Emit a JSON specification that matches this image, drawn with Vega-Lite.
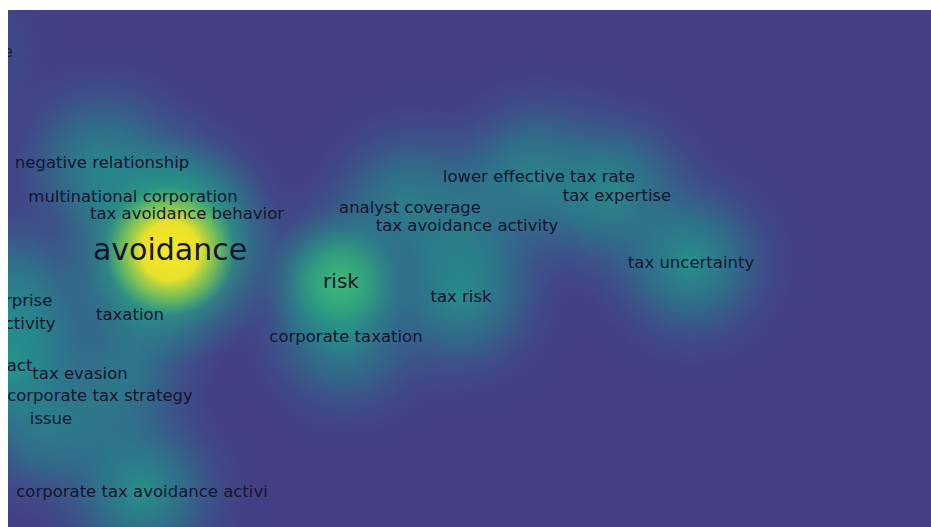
{
  "$schema": "https://vega.github.io/schema/vega-lite/v6.json",
  "width": 923,
  "height": 517,
  "autosize": "none",
  "padding": {"left": 8, "top": 10, "right": 0, "bottom": 0},
  "background": "white",
  "config": {"view": {"stroke": null, "fill": "#443e85"}},
  "data": {
    "values": [
      {"label": "avoidance", "x": 162, "y": 241, "w": 60},
      {"label": "risk", "x": 333, "y": 272, "w": 30},
      {"label": "negative relationship", "x": 94, "y": 153, "w": 16},
      {"label": "multinational corporation", "x": 125, "y": 187, "w": 9},
      {"label": "tax avoidance behavior", "x": 179, "y": 204, "w": 9},
      {"label": "taxation", "x": 122, "y": 305, "w": 10},
      {"label": "tax evasion", "x": 72, "y": 364, "w": 12},
      {"label": "corporate tax strategy", "x": 92, "y": 386, "w": 10},
      {"label": "issue", "x": 43, "y": 409, "w": 10},
      {"label": "corporate tax avoidance activi", "x": 134, "y": 482, "w": 12},
      {"label": "corporate taxation", "x": 338, "y": 327, "w": 8},
      {"label": "analyst coverage", "x": 402, "y": 198, "w": 10},
      {"label": "tax avoidance activity", "x": 459, "y": 216, "w": 13},
      {"label": "lower effective tax rate", "x": 531, "y": 167, "w": 10},
      {"label": "tax expertise", "x": 609, "y": 186, "w": 10},
      {"label": "tax risk", "x": 453, "y": 287, "w": 9},
      {"label": "tax uncertainty", "x": 683, "y": 253, "w": 13},
      {"label": "enterprise", "x": 2, "y": 291, "w": 10},
      {"label": "firm activity", "x": -2, "y": 314, "w": 10},
      {"label": "impact", "x": -4, "y": 356, "w": 10},
      {"label": "performance", "x": -48, "y": 42, "w": 3}
    ]
  },
  "encoding": {
    "x": {"field": "x", "type": "quantitative", "scale": {"domain": [0, 923], "nice": false, "zero": false}, "axis": null},
    "y": {"field": "y", "type": "quantitative", "scale": {"domain": [0, 517], "nice": false, "zero": false, "reverse": true}, "axis": null}
  },
  "layer": [
    {
      "mark": {
        "type": "point",
        "shape": "circle",
        "filled": true,
        "clip": true,
        "size": 72900,
        "strokeWidth": 0,
        "fill": {
          "gradient": "radial",
          "stops": [
            {"offset": 0, "color": "rgba(36,152,138,0.92)"},
            {"offset": 0.33, "color": "rgba(38,134,140,0.62)"},
            {"offset": 0.62, "color": "rgba(55,98,140,0.26)"},
            {"offset": 0.82, "color": "rgba(62,80,137,0.08)"},
            {"offset": 1, "color": "rgba(68,63,134,0)"}
          ]
        }
      },
      "encoding": {
        "opacity": {"field": "w", "type": "quantitative", "scale": {"domain": [0, 10], "range": [0, 1], "clamp": true}, "legend": null}
      }
    },
    {
      "transform": [{"filter": "datum.w >= 25"}],
      "mark": {
        "type": "point",
        "shape": "circle",
        "filled": true,
        "clip": true,
        "opacity": 1,
        "strokeWidth": 0,
        "fill": {
          "gradient": "radial",
          "stops": [
            {"offset": 0, "color": "rgba(66,188,115,0.95)"},
            {"offset": 0.4, "color": "rgba(50,176,122,0.7)"},
            {"offset": 0.75, "color": "rgba(35,150,135,0.25)"},
            {"offset": 1, "color": "rgba(35,150,135,0)"}
          ]
        }
      },
      "encoding": {
        "size": {"field": "w", "type": "quantitative", "scale": {"domain": [30, 60], "range": [22500, 52900]}, "legend": null}
      }
    },
    {
      "transform": [{"filter": "datum.w >= 50"}],
      "mark": {
        "type": "point",
        "shape": "circle",
        "filled": true,
        "clip": true,
        "opacity": 1,
        "size": 16900,
        "strokeWidth": 0,
        "fill": {
          "gradient": "radial",
          "stops": [
            {"offset": 0, "color": "rgba(253,231,37,1)"},
            {"offset": 0.45, "color": "rgba(240,228,40,0.95)"},
            {"offset": 0.75, "color": "rgba(170,215,60,0.5)"},
            {"offset": 1, "color": "rgba(110,200,90,0)"}
          ]
        }
      }
    },
    {
      "mark": {
        "type": "text",
        "clip": true,
        "font": "DejaVu Sans",
        "align": "center",
        "baseline": "middle",
        "color": "#15152f"
      },
      "encoding": {
        "text": {"field": "label"},
        "size": {"field": "w", "type": "quantitative", "scale": {"type": "threshold", "domain": [20, 50], "range": [16.5, 20, 30]}, "legend": null}
      }
    }
  ],
  "resolve": {"scale": {"size": "independent"}}
}
